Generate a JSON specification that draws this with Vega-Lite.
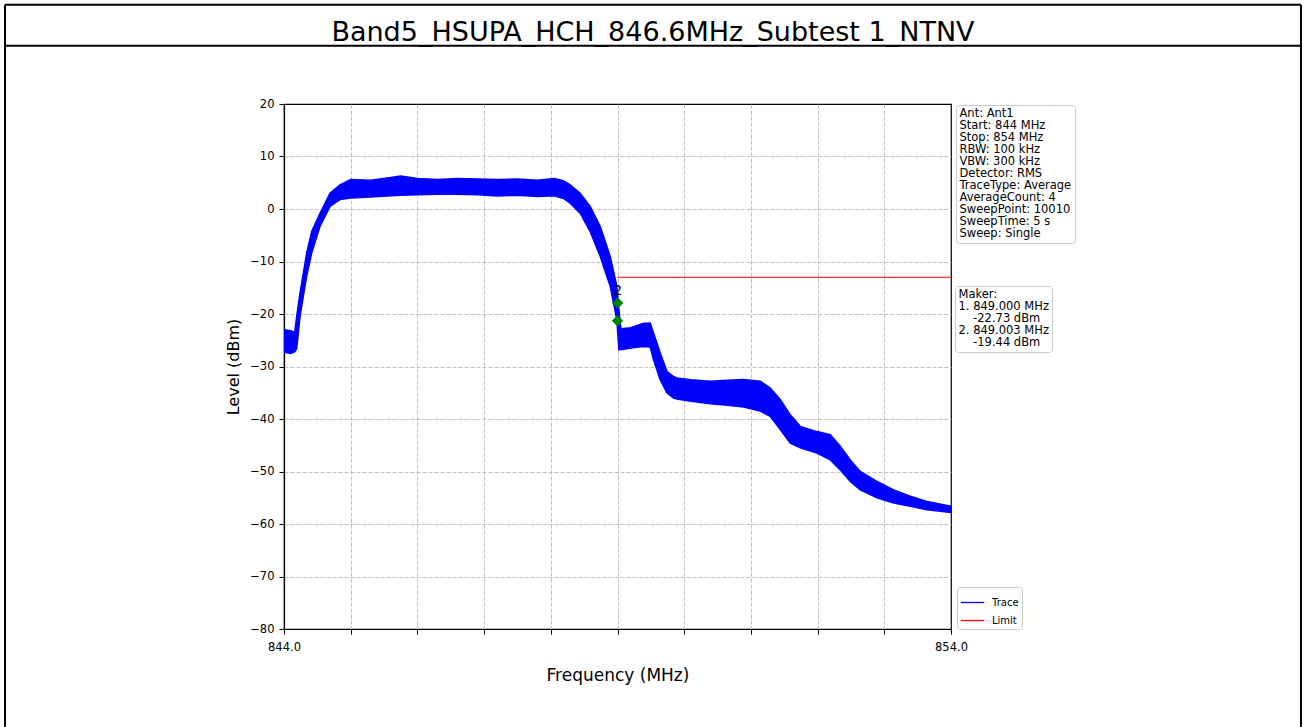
{
  "$schema": "https://vega.github.io/schema/vega-lite/v6.json",
  "width": 667,
  "height": 525,
  "autosize": {"type": "none"},
  "padding": {"left": 284, "top": 104, "right": 355, "bottom": 98},
  "background": "white",
  "config": {
    "view": {"stroke": "black", "strokeWidth": 1.2},
    "axis": {
      "labelFont": "DejaVu Sans",
      "labelFontSize": 11.5,
      "labelColor": "black",
      "titleFont": "DejaVu Sans",
      "titleFontWeight": "normal",
      "titleColor": "black",
      "domainColor": "black",
      "domainWidth": 1.2,
      "tickColor": "black",
      "tickSize": 5,
      "tickWidth": 1,
      "gridColor": "#b0b0b0",
      "gridDash": [4, 2],
      "gridWidth": 0.8
    },
    "legend": {
      "labelFont": "DejaVu Sans",
      "labelColor": "black",
      "strokeColor": "#cccccc",
      "fillColor": "white",
      "cornerRadius": 3
    }
  },
  "datasets": {
    "trace": [
      {"f": 844.0, "hi": -23.0, "lo": -27.3},
      {"f": 844.1, "hi": -23.2, "lo": -27.5},
      {"f": 844.16, "hi": -23.5, "lo": -27.2},
      {"f": 844.19, "hi": -20.5, "lo": -26.6},
      {"f": 844.24, "hi": -16.0, "lo": -20.5},
      {"f": 844.29, "hi": -12.2, "lo": -16.6},
      {"f": 844.34, "hi": -8.4, "lo": -12.8},
      {"f": 844.415, "hi": -4.3, "lo": -8.4},
      {"f": 844.54, "hi": -0.8, "lo": -3.3},
      {"f": 844.69, "hi": 3.0, "lo": 0.5},
      {"f": 844.84, "hi": 4.6, "lo": 1.8},
      {"f": 845.0, "hi": 5.6, "lo": 2.1},
      {"f": 845.3, "hi": 5.5, "lo": 2.3},
      {"f": 845.6, "hi": 6.0, "lo": 2.5},
      {"f": 845.75, "hi": 6.3, "lo": 2.6},
      {"f": 846.0, "hi": 5.8, "lo": 2.7},
      {"f": 846.3, "hi": 5.6, "lo": 2.8},
      {"f": 846.6, "hi": 5.8, "lo": 2.8},
      {"f": 846.9, "hi": 5.7, "lo": 2.7},
      {"f": 847.2, "hi": 5.6, "lo": 2.5},
      {"f": 847.5, "hi": 5.7, "lo": 2.6},
      {"f": 847.8, "hi": 5.5, "lo": 2.4},
      {"f": 848.05, "hi": 5.8, "lo": 2.5},
      {"f": 848.19, "hi": 5.4, "lo": 2.0},
      {"f": 848.29, "hi": 4.6, "lo": 1.1},
      {"f": 848.44, "hi": 3.0, "lo": -0.8},
      {"f": 848.59, "hi": 0.5, "lo": -4.3},
      {"f": 848.74, "hi": -3.3, "lo": -9.0},
      {"f": 848.89, "hi": -9.0, "lo": -14.7},
      {"f": 848.99, "hi": -14.7, "lo": -21.1},
      {"f": 849.02, "hi": -19.0, "lo": -26.8},
      {"f": 849.05, "hi": -22.8, "lo": -26.8},
      {"f": 849.2, "hi": -22.6, "lo": -26.5},
      {"f": 849.38, "hi": -21.8, "lo": -26.2},
      {"f": 849.49, "hi": -21.7, "lo": -26.3},
      {"f": 849.54, "hi": -23.6, "lo": -28.7},
      {"f": 849.64, "hi": -27.4, "lo": -32.5},
      {"f": 849.74, "hi": -30.9, "lo": -35.0},
      {"f": 849.84, "hi": -31.9, "lo": -36.0},
      {"f": 849.89, "hi": -32.2, "lo": -36.2},
      {"f": 850.1, "hi": -32.5, "lo": -36.6},
      {"f": 850.39, "hi": -32.8, "lo": -37.1},
      {"f": 850.65, "hi": -32.6, "lo": -37.4},
      {"f": 850.89, "hi": -32.5, "lo": -37.7},
      {"f": 851.14, "hi": -32.8, "lo": -38.5},
      {"f": 851.29, "hi": -34.1, "lo": -39.5},
      {"f": 851.44, "hi": -36.3, "lo": -42.0},
      {"f": 851.59, "hi": -39.2, "lo": -44.6},
      {"f": 851.74, "hi": -41.4, "lo": -45.5},
      {"f": 851.99, "hi": -42.4, "lo": -46.5},
      {"f": 852.19, "hi": -43.0, "lo": -47.8},
      {"f": 852.34, "hi": -45.2, "lo": -49.7},
      {"f": 852.49, "hi": -47.8, "lo": -51.9},
      {"f": 852.64, "hi": -50.0, "lo": -53.5},
      {"f": 852.89, "hi": -51.9, "lo": -55.0},
      {"f": 853.14, "hi": -53.5, "lo": -56.0},
      {"f": 853.39, "hi": -54.7, "lo": -56.6},
      {"f": 853.64, "hi": -55.7, "lo": -57.3},
      {"f": 854.0, "hi": -56.6, "lo": -57.8}
    ],
    "markers": [
      {"f": 849.0, "lvl": -21.3, "label": ""},
      {"f": 849.003, "lvl": -17.9, "label": "2"}
    ],
    "info": [
      {"info": "Ant: Ant1"},
      {"info": "Start: 844 MHz"},
      {"info": "Stop: 854 MHz"},
      {"info": "RBW: 100 kHz"},
      {"info": "VBW: 300 kHz"},
      {"info": "Detector: RMS"},
      {"info": "TraceType: Average"},
      {"info": "AverageCount: 4"},
      {"info": "SweepPoint: 10010"},
      {"info": "SweepTime: 5 s"},
      {"info": "Sweep: Single"}
    ],
    "maker": [
      {"maker": "Maker:"},
      {"maker": "1. 849.000 MHz"},
      {"maker": "\u200b\u00a0\u00a0\u00a0\u00a0-22.73 dBm"},
      {"maker": "2. 849.003 MHz"},
      {"maker": "\u200b\u00a0\u00a0\u00a0\u00a0-19.44 dBm"}
    ],
    "one": [{}]
  },
  "layer": [
    {
      "data": {"name": "trace"},
      "mark": {"type": "area", "color": "#0000ff", "opacity": 1},
      "encoding": {
        "x": {
          "field": "f",
          "type": "quantitative",
          "scale": {"domain": [844, 854], "nice": false, "zero": false},
          "axis": {
            "title": "Frequency (MHz)",
            "titleFontSize": 17,
            "titlePadding": 15,
            "values": [844, 845, 846, 847, 848, 849, 850, 851, 852, 853, 854],
            "labelExpr": "datum.value == 844 || datum.value == 854 ? format(datum.value, '.1f') : ''",
            "labelFlush": false,
            "labelOverlap": false,
            "labelBound": false,
            "labelPadding": 7,
            "grid": true,
            "gridOpacity": {"condition": {"test": "datum.value == 844 || datum.value == 854", "value": 0}, "value": 1}
          }
        },
        "y": {
          "field": "hi",
          "type": "quantitative",
          "scale": {"domain": [-80, 20], "nice": false, "zero": false},
          "axis": {
            "title": "Level (dBm)",
            "titleFontSize": 16,
            "titlePadding": 8,
            "values": [-80, -70, -60, -50, -40, -30, -20, -10, 0, 10, 20],
            "format": "d",
            "labelPadding": 5,
            "grid": true,
            "gridOpacity": {"condition": {"test": "datum.value == 20 || datum.value == -80", "value": 0}, "value": 1}
          }
        },
        "y2": {"field": "lo"}
      }
    },
    {
      "data": {"name": "trace"},
      "mark": {"type": "line", "strokeWidth": 1.5},
      "encoding": {
        "x": {"field": "f", "type": "quantitative"},
        "y": {"field": "lo", "type": "quantitative"},
        "color": {"datum": "Trace", "type": "nominal"}
      }
    },
    {
      "data": {"name": "trace"},
      "mark": {"type": "line", "strokeWidth": 1.5},
      "encoding": {
        "x": {"field": "f", "type": "quantitative"},
        "y": {"field": "hi", "type": "quantitative"},
        "color": {
          "datum": "Trace",
          "type": "nominal",
          "scale": {"domain": ["Trace", "Limit"], "range": ["#0000ff", "#ff0000"]},
          "legend": {
            "orient": "none",
            "legendX": 673,
            "legendY": 483,
            "title": null,
            "symbolType": "stroke",
            "symbolSize": 550,
            "symbolStrokeWidth": 1.3,
            "labelFontSize": 10,
            "labelOffset": 7,
            "padding": 3,
            "rowPadding": -9
          }
        }
      }
    },
    {
      "data": {"name": "one"},
      "mark": {"type": "rule", "strokeWidth": 1.2},
      "encoding": {
        "x": {"datum": 849, "type": "quantitative"},
        "x2": {"datum": 854},
        "y": {"datum": -13, "type": "quantitative"},
        "color": {"datum": "Limit", "type": "nominal"}
      }
    },
    {
      "data": {"name": "markers"},
      "mark": {"type": "text", "font": "DejaVu Sans", "fontSize": 13.5, "color": "black", "baseline": "alphabetic", "align": "center", "dy": -8},
      "encoding": {
        "x": {"field": "f", "type": "quantitative"},
        "y": {"field": "lvl", "type": "quantitative"},
        "text": {"field": "label"}
      }
    },
    {
      "data": {"name": "markers"},
      "mark": {"type": "point", "shape": "diamond", "filled": true, "color": "#008000", "opacity": 1, "size": 130},
      "encoding": {
        "x": {"field": "f", "type": "quantitative"},
        "y": {"field": "lvl", "type": "quantitative"}
      }
    },
    {
      "data": {"name": "info"},
      "mark": {"type": "point", "opacity": 0},
      "encoding": {
        "shape": {
          "field": "info",
          "type": "nominal",
          "scale": {"domain": ["Ant: Ant1", "Start: 844 MHz", "Stop: 854 MHz", "RBW: 100 kHz", "VBW: 300 kHz", "Detector: RMS", "TraceType: Average", "AverageCount: 4", "SweepPoint: 10010", "SweepTime: 5 s", "Sweep: Single"]},
          "legend": {
            "orient": "none",
            "legendX": 672,
            "legendY": 1,
            "title": null,
            "symbolSize": 0,
            "symbolStrokeWidth": 0,
            "symbolOpacity": 0,
            "labelOffset": -11,
            "labelFontSize": 11.5,
            "padding": 3,
            "rowPadding": -2.5
          }
        }
      }
    },
    {
      "data": {"name": "maker"},
      "mark": {"type": "point", "opacity": 0},
      "encoding": {
        "strokeDash": {
          "field": "maker",
          "type": "nominal",
          "scale": {"domain": ["Maker:", "1. 849.000 MHz", "\u200b\u00a0\u00a0\u00a0\u00a0-22.73 dBm", "2. 849.003 MHz", "\u200b\u00a0\u00a0\u00a0\u00a0-19.44 dBm"]},
          "legend": {
            "orient": "none",
            "legendX": 671,
            "legendY": 182,
            "title": null,
            "symbolSize": 0,
            "symbolStrokeWidth": 0,
            "symbolOpacity": 0,
            "labelOffset": -11,
            "labelFontSize": 11.5,
            "padding": 3,
            "rowPadding": -1.4
          }
        }
      }
    },
    {
      "data": {"name": "one"},
      "mark": {"type": "text", "font": "DejaVu Sans", "fontSize": 27, "color": "black", "baseline": "middle", "align": "center"},
      "encoding": {
        "x": {"datum": 849.532, "type": "quantitative"},
        "y": {"datum": 33.6, "type": "quantitative"},
        "text": {"datum": "Band5_HSUPA_HCH_846.6MHz_Subtest 1_NTNV"}
      }
    },
    {
      "data": {"name": "one"},
      "mark": {"type": "rule", "color": "black", "strokeWidth": 2},
      "encoding": {
        "x": {"datum": 839.817, "type": "quantitative"},
        "x2": {"datum": 859.247},
        "y": {"datum": 38.91, "type": "quantitative"}
      }
    },
    {
      "data": {"name": "one"},
      "mark": {"type": "rule", "color": "black", "strokeWidth": 2},
      "encoding": {
        "x": {"datum": 839.817, "type": "quantitative"},
        "x2": {"datum": 859.247},
        "y": {"datum": 31.1, "type": "quantitative"}
      }
    },
    {
      "data": {"name": "one"},
      "mark": {"type": "rule", "color": "black", "strokeWidth": 2},
      "encoding": {
        "x": {"datum": 839.817, "type": "quantitative"},
        "y": {"datum": 38.91, "type": "quantitative"},
        "y2": {"datum": -98.6}
      }
    },
    {
      "data": {"name": "one"},
      "mark": {"type": "rule", "color": "black", "strokeWidth": 2},
      "encoding": {
        "x": {"datum": 859.247, "type": "quantitative"},
        "y": {"datum": 38.91, "type": "quantitative"},
        "y2": {"datum": -98.6}
      }
    }
  ]
}
